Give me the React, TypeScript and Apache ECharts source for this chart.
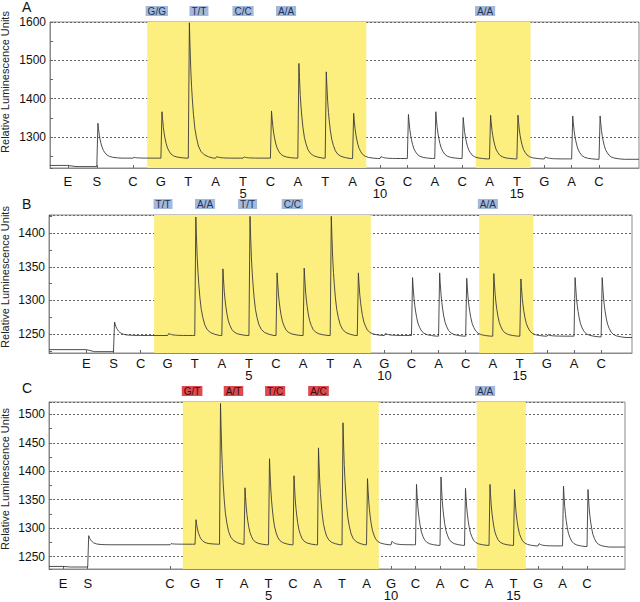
import React, { useEffect, useRef } from "react";
import * as echarts from "echarts";

const FONT = "'Liberation Sans', Arial, Helvetica, sans-serif";

// Dispensation order (E = enzyme, S = substrate, then nucleotides 1..18)
const DISPENSATIONS = ["E", "S", "C", "G", "T", "A", "T", "C", "A", "T", "A", "G", "C", "A", "C", "A", "T", "G", "A", "C"];

// Dispensation positions on each panel's time axis
const POS_A = [0.6, 1.66, 2.98, 4, 5, 6, 7, 8, 9, 10, 11, 12, 13, 14, 15, 16, 17, 18, 19, 20];
const POS_B = [1, 2, 3, 4, 5, 6, 7, 8, 9, 10, 11, 12, 13, 14, 15, 16, 17, 18, 19, 20];
const POS_C = [-1.39, -0.38, 2.98, 4, 5, 6, 7, 8, 9, 10, 11, 12, 13, 14, 15, 16, 17, 18, 19, 20];

// Peak tops (RLU) per dispensation
const PEAK_A = [1224, 1336, 1247, 1366, 1598, 1249, 1248, 1368, 1492, 1470, 1362, 1249, 1359, 1366, 1351, 1357, 1357, 1248, 1355, 1355];
const PEAK_B = [1225, 1268, 1248, 1251, 1424, 1347, 1425, 1341, 1348, 1425, 1341, 1251, 1334, 1341, 1333, 1340, 1332, 1249, 1334, 1334];
const PEAK_C = [1232, 1287, 1273, 1315, 1519, 1371, 1422, 1392, 1441, 1485, 1387, 1277, 1377, 1390, 1370, 1377, 1368, 1273, 1374, 1368];

// Baseline level reached after each dispensation
const BASE_A = [1223, 1245, 1245, 1245, 1245, 1245, 1245, 1245, 1245, 1244, 1244, 1244, 1244, 1244, 1243, 1243, 1243, 1243, 1242, 1242];
const BASE_B = [1224, 1248, 1248, 1248, 1248, 1248, 1248, 1248, 1248, 1248, 1248, 1248, 1247, 1247, 1247, 1247, 1247, 1247, 1246, 1245];
const BASE_C = [1232, 1271, 1272, 1272, 1272, 1271, 1271, 1271, 1271, 1271, 1271, 1271, 1270, 1270, 1270, 1270, 1269, 1269, 1268, 1267];
const START = [1226, 1227, 1233];

// Peak shape: offset after the top (axis units) and remaining fraction
const DECAY_X = [0.02, 0.05, 0.08, 0.11, 0.15, 0.2, 0.26, 0.33, 0.42, 0.54, 0.7, 0.88];
const DECAY_F = [0.85, 0.66, 0.53, 0.43, 0.32, 0.22, 0.15, 0.09, 0.05, 0.025, 0.01, 0];

// Highlighted dispensation ranges
const SPANS = [[3.5, 11.5], [15.5, 17.5]];

// Genotype tags above each panel
const TAGS_A = ["G/G", "T/T", "C/C", "A/A", "A/A"];
const TAGS_A_X = [3.85, 5.39, 7.0, 8.57, 15.84];
const TAGS_B = ["T/T", "A/A", "T/T", "C/C", "A/A"];
const TAGS_B_X = [3.83, 5.38, 6.95, 8.6, 15.82];
const TAGS_C = ["G/T", "A/T", "T/C", "A/C", "A/A"];
const TAGS_C_X = [3.88, 5.57, 7.27, 9.04, 15.84];
const TAGS_C_MISMATCH = [true, true, true, true, false];

const PANELS = [
  { letter: "A", pos: POS_A, peak: PEAK_A, base: BASE_A, start: START[0], xMin: -0.05, xMax: 21.46, yMin: 1219.3, yMax: 1600, split: 4, showMax: true,
    grid: { left: 50, top: 22, width: 589, height: 146 }, labelMargin: 6, nameY: 82, letterY: 7,
    tags: TAGS_A, tagsX: TAGS_A_X, mismatch: [false, false, false, false, false] },
  { letter: "B", pos: POS_B, peak: PEAK_B, base: BASE_B, start: START[1], xMin: -0.38, xMax: 21.14, yMin: 1222, yMax: 1427, split: 4, showMax: false,
    grid: { left: 49, top: 215, width: 583, height: 138 }, labelMargin: 3, nameY: 277, letterY: 204,
    tags: TAGS_B, tagsX: TAGS_B_X, mismatch: [false, false, false, false, false] },
  { letter: "C", pos: POS_C, peak: PEAK_C, base: BASE_C, start: START[2], xMin: -1.96, xMax: 21.55, yMin: 1228.5, yMax: 1521.5, split: 6, showMax: false,
    grid: { left: 49, top: 402, width: 576, height: 167 }, labelMargin: 7, nameY: 479, letterY: 388,
    tags: TAGS_C, tagsX: TAGS_C_X, mismatch: TAGS_C_MISMATCH },
];

function buildTrace(pos: number[], peak: number[], base: number[], start: number, xMin: number, xMax: number) {
  const pts: number[][] = [[xMin, start]];
  let level = start;
  for (let i = 0; i < pos.length; i++) {
    const x = pos[i];
    pts.push([x, level]);
    if (peak[i] > level + 0.5 && peak[i] > base[i]) {
      const top = x + 0.04;
      pts.push([top, peak[i]]);
      const amp = peak[i] - base[i];
      for (let k = 0; k < DECAY_X.length; k++) pts.push([top + DECAY_X[k], base[i] + amp * DECAY_F[k]]);
    } else {
      pts.push([x + 0.3, base[i]]);
    }
    level = base[i];
  }
  pts.push([xMax, level]);
  return pts;
}

function labelFor(pos: number[], v: number) {
  let best = 0;
  for (let i = 1; i < pos.length; i++) if (Math.abs(pos[i] - v) < Math.abs(pos[best] - v)) best = i;
  const num = best - 1;
  const letter = DISPENSATIONS[best];
  return best >= 2 && num % 5 === 0 ? letter + "\n" + num : letter;
}

export default function App() {
  const ref = useRef<HTMLDivElement>(null);
  useEffect(() => {
    if (!ref.current) return;
    const chart = echarts.init(ref.current, null, { renderer: "svg" });
    const grids: any[] = [];
    const xAxes: any[] = [];
    const yAxes: any[] = [];
    const series: any[] = [];
    PANELS.forEach((p, i) => {
      grids.push({ ...p.grid, show: true, borderColor: "#8a8a8a", borderWidth: 1, backgroundColor: "#fff" });
      xAxes.push({
        type: "value", gridIndex: i, min: p.xMin, max: p.xMax,
        axisLine: { show: true, onZero: false, lineStyle: { color: "#8a8a8a", width: 1 } },
        axisTick: { show: true, inside: true, length: 3, customValues: p.pos, lineStyle: { color: "#666" } },
        axisLabel: {
          customValues: p.pos, formatter: (v: number) => labelFor(p.pos, v),
          fontSize: 13, lineHeight: 12, color: "#111", fontFamily: FONT, margin: p.labelMargin + 1,
        },
        splitLine: { show: false },
      });
      yAxes.push({
        type: "value", gridIndex: i, min: p.yMin, max: p.yMax, splitNumber: p.split,
        axisLine: { show: true, onZero: false, lineStyle: { color: "#8a8a8a", width: 1 } },
        axisTick: { show: true, inside: true, length: 3, lineStyle: { color: "#666" } },
        minorTick: { show: true, splitNumber: 2, length: 3, lineStyle: { color: "#666" } },
        axisLabel: {
          fontSize: 12, color: "#111", fontFamily: FONT, margin: 4,
          showMinLabel: false, showMaxLabel: p.showMax,
          formatter: (v: number) => String(Math.round(v)),
        },
        splitLine: { show: true, lineStyle: { type: [2, 2], color: "#666", width: 1 } },
      });
      series.push({
        type: "line", xAxisIndex: i, yAxisIndex: i,
        data: buildTrace(p.pos, p.peak, p.base, p.start, p.xMin, p.xMax),
        showSymbol: false, symbol: "none",
        lineStyle: { color: "#3a3a3a", width: 0.9 },
        markArea: {
          silent: true,
          itemStyle: { color: "#FCEF80" },
          data: SPANS.map(([a, b]) => [{ xAxis: a }, { xAxis: b }]),
        },
      });
    });
    chart.setOption({
      animation: false,
      backgroundColor: "#fff",
      grid: grids,
      xAxis: xAxes,
      yAxis: yAxes,
      series,
    });
    const graphic: any[] = [];
    PANELS.forEach((p, i) => {
      graphic.push({
        type: "text", x: 22, y: p.letterY,
        style: { text: p.letter, font: `14px ${FONT}`, fill: "#111", textVerticalAlign: "middle" },
      });
      graphic.push({
        type: "text", x: 5, y: p.nameY, rotation: Math.PI / 2,
        style: { text: "Relative Luminescence Units", font: `11px ${FONT}`, fill: "#222", textAlign: "center", textVerticalAlign: "middle" },
      });
      p.tags.forEach((t, k) => {
        const px = chart.convertToPixel({ xAxisIndex: i }, p.tagsX[k]) as number;
        const red = p.mismatch[k];
        graphic.push({
          type: "text", x: px, y: p.grid.top - 11,
          style: {
            text: t, font: `10px ${FONT}`, lineHeight: 10, fill: red ? "#3a0808" : "#1f3152",
            textAlign: "center", textVerticalAlign: "middle",
            backgroundColor: red ? "#DE4A50" : "#A2B8DC", padding: [0, 2, 0, 2],
          },
        });
      });
    });
    chart.setOption({ graphic });
    return () => chart.dispose();
  }, []);
  return <div ref={ref} style={{ position: "absolute", left: 0, top: 0, width: 640, height: 602 }} />;
}
